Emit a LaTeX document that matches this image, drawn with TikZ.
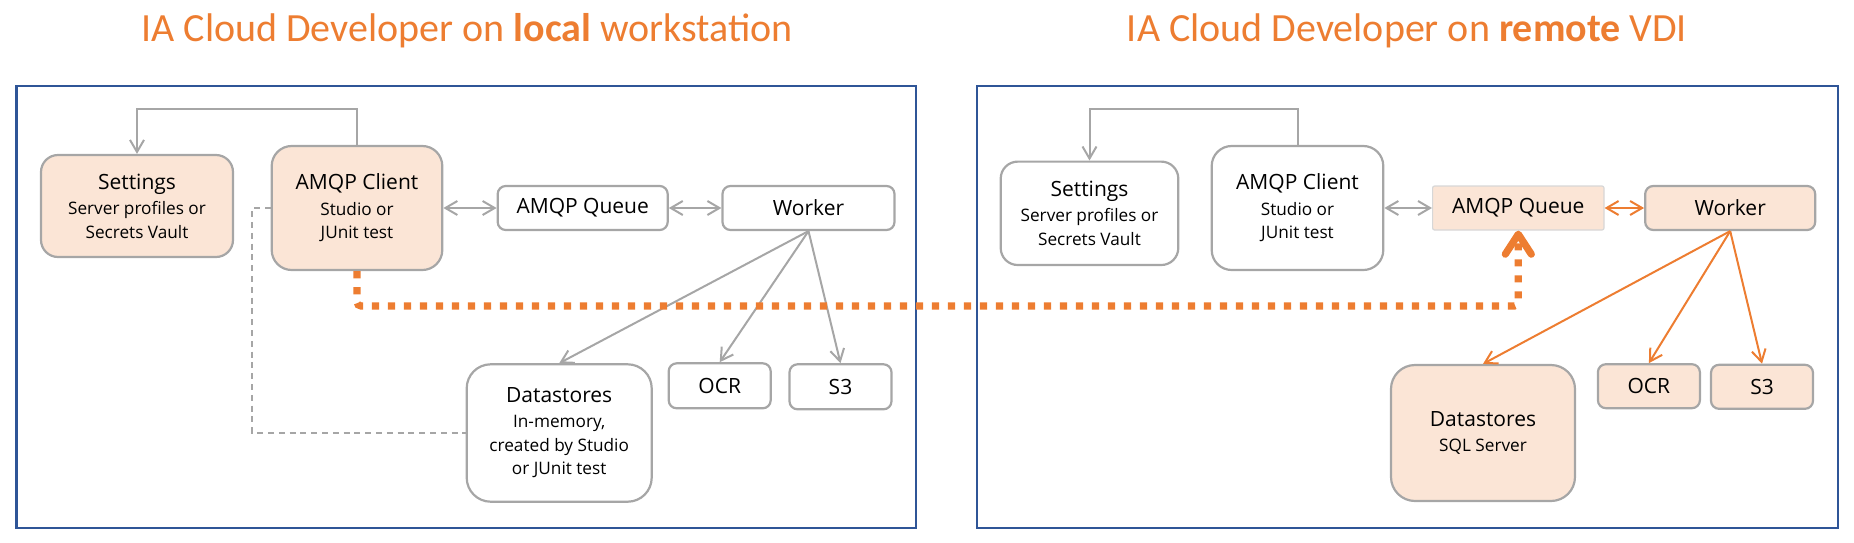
\documentclass[tikz,border=0pt]{standalone}
\usepackage{fontspec}
\setmainfont{Open Sans}
\newfontfamily\titlefont{Carlito}
\usetikzlibrary{arrows.meta}
\definecolor{orng}{HTML}{ED7D31}
\definecolor{peach}{HTML}{FBE5D6}
\definecolor{frameblue}{HTML}{2F5597}
\definecolor{lgrey}{HTML}{A6A6A6}
\newcommand\boxhead[1]{{\fontsize{10.5pt}{13pt}\selectfont #1}}
\tikzset{
  box/.style={draw=lgrey,line width=1.1pt,fill=white,inner sep=0pt,align=center,
    font=\fontsize{8.6pt}{11.8pt}\selectfont},
  hot/.style={box,fill=peach},
  garr/.style={draw=lgrey,line width=1pt},
  oarr/.style={draw=orng,line width=1pt},
  gdash/.style={draw=lgrey,line width=0.9pt,dash pattern=on 3pt off 2.4pt},
  odots/.style={draw=orng,line width=3.6pt,dash pattern=on 3.6pt off 4.4pt,rounded corners=2pt},
  frame/.style={draw=frameblue,line width=1.2pt},
  ttl/.style={font=\titlefont\fontsize{20pt}{24pt}\selectfont,text=orng,anchor=base}
}
\begin{document}
\begin{tikzpicture}[x=0.5pt,y=-0.5pt,>={Straight Barb[length=6pt,width=7pt]}]
\useasboundingbox (0,0) rectangle (1854,542);
% titles and frames
\node[ttl] (ltitle) at (467,41.5) {IA Cloud Developer on \textbf{local} workstation};
\node[ttl] (rtitle) at (1407,41.5) {IA Cloud Developer on \textbf{remote} VDI};
\draw[frame] (16.5,85.7) rectangle (916,528);
\draw[frame] (976.7,85.7) rectangle (1838,528);
% local workstation
\node[hot,minimum width=96pt,minimum height=51pt,rounded corners=8.5pt] (lst) at (137,206)
  {\boxhead{Settings}\\[1pt] Server profiles or\\ Secrets Vault};
\node[hot,minimum width=85.3pt,minimum height=62pt,rounded corners=10pt] (lcl) at (357,208)
  {\boxhead{AMQP Client}\\[1pt] Studio or\\ JUnit test};
\node[box,minimum width=85pt,minimum height=22pt,rounded corners=4pt] (lq) at (582.7,208) {\boxhead{AMQP Queue}};
\node[box,minimum width=86pt,minimum height=22pt,rounded corners=4pt] (lw) at (808.5,208) {\boxhead{Worker}};
\node[box,minimum width=92.5pt,minimum height=68.7pt,rounded corners=12pt] (lds) at (559.2,433)
  {\boxhead{Datastores}\\[0.5pt] In-memory,\\ created by Studio\\ or JUnit test};
\node[box,minimum width=51pt,minimum height=22.5pt,rounded corners=4pt] (locr) at (719.7,385.8) {\boxhead{OCR}};
\node[box,minimum width=51pt,minimum height=22.5pt,rounded corners=4pt] (ls3) at (840.5,386.8) {\boxhead{S3}};
\draw[garr,->] (lcl.north) -- ++(0,-35.7) -| (lst.north);
\draw[garr,<->] (lcl.east) -- (lq.west);
\draw[garr,<->] (lq.east) -- (lw.west);
\foreach \t in {lds,locr,ls3} \draw[garr,->] (lw.south) -- (\t.north);
\draw[gdash] (lcl.west) -- ++(-18.4,0) |- (lds.west);
% remote VDI
\node[box,minimum width=88.8pt,minimum height=51.7pt,rounded corners=8.5pt] (rst) at (1089.5,213.3)
  {\boxhead{Settings}\\[1pt] Server profiles or\\ Secrets Vault};
\node[box,minimum width=85.8pt,minimum height=62pt,rounded corners=10pt] (rcl) at (1297.5,208)
  {\boxhead{AMQP Client}\\[1pt] Studio or\\ JUnit test};
\node[hot,draw=lgrey!45,line width=0.6pt,minimum width=85.7pt,minimum height=22pt,rounded corners=1pt] (rq) at (1518.3,208) {\boxhead{AMQP Queue}};
\node[hot,minimum width=85pt,minimum height=22pt,rounded corners=4pt] (rw) at (1730.2,208) {\boxhead{Worker}};
\node[hot,minimum width=92pt,minimum height=68pt,rounded corners=12pt] (rds) at (1483,433)
  {\boxhead{Datastores}\\[1pt] SQL Server};
\node[hot,minimum width=51pt,minimum height=22pt,rounded corners=4pt] (rocr) at (1648.9,386.2) {\boxhead{OCR}};
\node[hot,minimum width=51pt,minimum height=22pt,rounded corners=4pt] (rs3) at (1762,386.8) {\boxhead{S3}};
\draw[garr,->] (rcl.north) -- ++(0,-36) -| (rst.north);
\draw[garr,<->] (rcl.east) -- (rq.west);
\draw[oarr,<->] (rq.east) -- (rw.west);
\foreach \t in {rds,rocr,rs3} \draw[oarr,->] (rw.south) -- (\t.north);
% link local client to remote queue
\coordinate (bend) at (1518.3,306);
\draw[odots,-{Straight Barb[length=10pt,width=13pt,line cap=round,line join=round]}] (lcl.south) |- (bend) -- (rq.south);
\end{tikzpicture}
\end{document}
